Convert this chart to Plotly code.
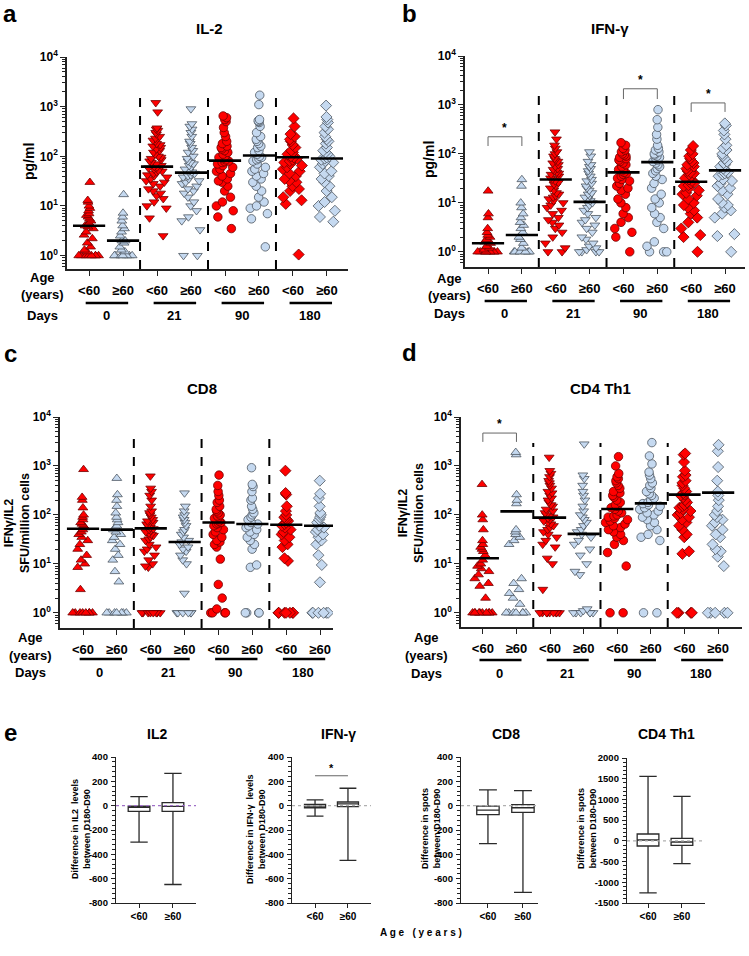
import math
import plotly.graph_objects as go

W, H = 749, 956
FONT = "Liberation Sans, Arial, sans-serif"

age_groups = ["<60", "≥60"] * 4
day_labels = ["0", "21", "90", "180"]
symbols = ["triangle-up", "triangle-up", "triangle-down", "triangle-down",
           "circle", "circle", "diamond", "diamond"]

# a: IL-2 pg/ml, groups = D0 <60, D0 >=60, D21 <60, D21 >=60, D90 ..., D180 ...
il2 = [
    [30, 13, 12, 10, 9, 8, 7, 6.5, 6, 5.5, 5, 4.5, 4.2, 4, 3.8, 3.5, 3, 2.6, 2.2, 1.8, 1.5, 1.3, 1.2, 1, 1, 1, 1, 1, 1, 1, 1],
    [17, 7.2, 6, 5, 4, 3.5, 3, 2.5, 2, 2, 1.8, 1.5, 1.3, 1.2, 1, 1, 1, 1, 1, 1, 1],
    [1200, 780, 370, 350, 330, 300, 280, 250, 230, 210, 200, 180, 170, 160, 150, 140, 130, 120, 110, 100, 95, 90, 85, 80,
     75, 70, 65, 62, 60, 58, 55, 52, 50, 48, 45, 42, 40, 38, 35, 32, 30, 28, 25, 22, 20, 18, 16, 14, 12, 10, 9, 5.7, 2.5],
    [900, 450, 400, 350, 300, 250, 200, 180, 150, 130, 120, 100, 90, 80, 75, 70, 65, 60, 55, 50, 48, 45, 42, 40, 38, 35,
     32, 30, 28, 25, 22, 20, 18, 15, 12, 10, 8, 6, 5, 3.3, 1, 1],
    [650, 600, 550, 500, 380, 300, 250, 200, 180, 160, 150, 140, 130, 120, 110, 100, 95, 90, 85, 80, 78, 75, 70, 65, 60,
     55, 50, 45, 40, 35, 32, 30, 25, 20, 15, 12, 10, 8, 6, 3.5],
    [1700, 1100, 550, 520, 500, 480, 400, 300, 250, 220, 200, 180, 160, 150, 130, 120, 110, 100, 95, 90, 85, 80, 70, 60,
     55, 50, 45, 40, 35, 30, 25, 20, 15, 12, 10, 9, 7, 5.5, 1.5],
    [580, 400, 280, 250, 220, 200, 170, 150, 130, 120, 110, 100, 95, 90, 85, 80, 75, 70, 65, 60, 55, 50, 45, 40, 35, 32,
     30, 25, 22, 20, 15, 13, 11, 1.05],
    [1050, 620, 550, 480, 400, 350, 300, 250, 220, 200, 180, 150, 130, 120, 110, 100, 95, 90, 85, 80, 75, 70, 60, 50, 45,
     40, 35, 30, 25, 20, 15, 12, 10, 8, 6, 4.8],
]
il2_med = [4.0, 2.0, 62, 47, 82, 104, 96, 90]

# b: IFN-gamma pg/ml
ifng = [
    [17.5, 6, 5, 3, 2.5, 2.2, 2, 1.8, 1.6, 1.5, 1.3, 1.2, 1.1, 1, 1, 1, 1, 1, 1, 1, 1, 1],
    [30, 22, 10, 8, 6, 5, 4, 3.5, 3, 2.5, 2, 1.8, 1.5, 1.2, 1, 1, 1, 1, 1, 1],
    [280, 200, 150, 130, 110, 100, 90, 80, 75, 70, 65, 60, 55, 50, 48, 45, 42, 40, 38, 35, 32, 30, 28, 26, 24, 22, 20, 18,
     16, 15, 14, 13, 12, 11, 10, 9, 8, 7, 6, 5, 4.5, 4, 3.5, 3, 2.5, 2, 1.5, 1.2, 1, 1],
    [110, 90, 70, 60, 55, 50, 45, 40, 35, 30, 28, 25, 22, 20, 18, 16, 15, 14, 13, 12, 11, 10, 9, 8, 7, 6, 5, 4.5, 4, 3.5,
     3, 2.5, 2, 1.8, 1.5, 1.3, 1.2, 1.1, 1, 1, 1, 1],
    [170, 150, 130, 120, 110, 100, 95, 90, 85, 80, 75, 70, 65, 60, 55, 50, 48, 45, 42, 40, 38, 35, 32, 30, 28, 25, 22, 20,
     18, 15, 12, 10, 8, 6, 5, 4, 3, 2.5, 2, 1],
    [800, 500, 350, 250, 200, 150, 130, 120, 110, 100, 95, 90, 85, 80, 75, 70, 65, 60, 55, 50, 45, 40, 35, 30, 25, 20, 15,
     12, 10, 8, 6, 5, 4, 3, 1.6, 1.3, 1, 1, 1],
    [145, 120, 100, 90, 80, 70, 65, 60, 55, 50, 45, 42, 40, 38, 35, 32, 30, 28, 26, 25, 23, 22, 20, 18, 16, 15, 14, 12, 10,
     9, 8, 7, 6, 5, 4, 3, 2.2, 2, 1],
    [420, 380, 300, 250, 200, 150, 130, 120, 100, 90, 80, 70, 65, 60, 55, 50, 45, 42, 40, 38, 35, 30, 28, 25, 22, 20, 18,
     15, 12, 10, 9, 8, 7, 6, 5, 2.3, 2.1, 1],
]
ifng_med = [1.5, 2.2, 30, 10.5, 42, 68, 27, 46]
ifng_sig = [(1, 2, 145, 224), (5, 6, 1320, 2140), (7, 8, 720, 1100)]

# c: CD8 IFNg/IL2 SFU/million cells
cd8 = [
    [850, 230, 200, 140, 100, 90, 80, 70, 65, 60, 55, 50, 45, 40, 35, 30, 25, 20, 15, 12, 10, 8.5, 3, 1, 1, 1, 1, 1, 1, 1, 1],
    [560, 260, 200, 150, 110, 90, 80, 70, 60, 55, 50, 45, 40, 35, 30, 25, 20, 15, 12, 7, 4.3, 1, 1, 1, 1, 1, 1, 1],
    [620, 350, 300, 250, 200, 150, 120, 110, 100, 90, 80, 75, 70, 65, 60, 55, 52, 50, 48, 45, 42, 40, 38, 35, 32, 30, 25,
     22, 20, 18, 15, 12, 10, 9, 8.5, 1, 1, 1, 1, 1, 1, 1, 1],
    [280, 150, 120, 100, 90, 80, 70, 60, 50, 45, 40, 35, 30, 28, 25, 22, 20, 18, 15, 12, 10, 2.5, 1, 1, 1, 1, 1, 1],
    [650, 400, 300, 250, 200, 180, 150, 130, 120, 110, 100, 95, 90, 85, 80, 75, 70, 68, 65, 60, 55, 50, 45, 40, 35, 30, 28,
     25, 22, 12.5, 3.8, 2, 1.2, 1, 1, 1, 1],
    [920, 420, 380, 300, 220, 200, 150, 130, 110, 100, 90, 80, 70, 65, 60, 55, 50, 45, 40, 35, 30, 25, 20, 9.5, 8.5, 1, 1, 1, 1],
    [800, 280, 260, 150, 120, 100, 90, 85, 80, 75, 70, 65, 60, 55, 50, 45, 40, 35, 30, 25, 22, 13, 11.5, 1, 1, 1, 1, 1, 1, 1],
    [500, 270, 220, 150, 110, 100, 90, 80, 70, 60, 55, 50, 45, 40, 35, 30, 25, 15, 9.5, 4.2, 1, 1, 1, 1, 1, 1],
]
cd8_med = [52, 50, 53, 28, 70, 65, 63, 60]

# d: CD4 Th1 IFNg/IL2 SFU/million cells
cd4 = [
    [420, 100, 80, 50, 30, 25, 22, 20, 18, 15, 12, 10, 9, 8, 7, 6, 5, 4, 3.5, 2, 1, 1, 1, 1, 1, 1, 1, 1, 1, 1],
    [1900, 1700, 260, 200, 170, 50, 45, 40, 35, 30, 25, 5, 4, 3, 2.5, 2, 1.5, 1, 1, 1, 1, 1, 1, 1],
    [1500, 800, 700, 600, 500, 450, 400, 350, 300, 280, 250, 220, 200, 180, 160, 150, 130, 120, 110, 100, 95, 90, 85, 80,
     75, 70, 65, 60, 55, 50, 45, 40, 35, 30, 25, 22, 13, 10, 3, 1, 1, 1, 1, 1, 1, 1, 1, 1],
    [2800, 650, 550, 400, 300, 250, 200, 150, 120, 100, 90, 80, 70, 60, 50, 45, 40, 35, 30, 25, 20, 15, 10, 7, 6, 1.2, 1.1,
     1, 1, 1, 1, 1, 1],
    [1550, 1000, 700, 600, 550, 500, 450, 400, 350, 300, 280, 250, 230, 200, 180, 160, 150, 140, 130, 120, 110, 100, 95, 90,
     85, 80, 75, 70, 65, 60, 55, 50, 45, 40, 35, 30, 25, 17, 9, 1, 1],
    [3000, 1600, 1100, 750, 650, 550, 450, 400, 350, 300, 270, 250, 220, 200, 180, 170, 160, 150, 140, 130, 120, 110, 100,
     90, 80, 70, 60, 50, 40, 35, 30, 1, 1],
    [1800, 1700, 1200, 800, 650, 600, 500, 450, 400, 350, 300, 280, 260, 250, 230, 200, 180, 160, 150, 140, 130, 120, 110,
     100, 90, 80, 70, 60, 50, 40, 35, 18, 16, 1, 1, 1, 1],
    [2700, 2000, 950, 500, 300, 250, 200, 150, 120, 100, 90, 80, 70, 60, 50, 40, 35, 25, 20, 18, 14, 9, 1, 1, 1, 1, 1],
]
cd4_med = [13, 118, 88, 41, 132, 172, 260, 285]
cd4_sig = [(1, 2, 3100, 4700)]

# e: D180 - D90 differences, box = min / q1 / median / q3 / max
box_titles = ["IL2", "IFN-γ", "CD8", "CD4 Th1"]
box_ytitles = ["Difference in IL2  levels<br>between D180-D90", "Difference in IFN-γ  levels<br>between D180-D90",
               "Difference in spots<br>between D180-D90", "Difference in spots<br>between D180-D90"]
box_min = [[-300, -648], [-86, -450], [-312, -712], [-1258, -550]]
box_q1 = [[-47, -47], [-17, -8], [-74, -55], [-124, -108]]
box_median = [[-14, -5], [-3, 14], [-36, -17], [21, -27]]
box_q3 = [[-3, 25], [11, 30], [-3, 8], [166, 61]]
box_max = [[74, 265], [47, 143], [130, 124], [1557, 1075]]
ifng_box_sig = 246

RED, RED_EDGE = "#ff0000", "#6e0000"
BLUE, BLUE_EDGE = "#c5d9f0", "#4d5560"
AX = "#222222"


def px(x):
    return x / W


def py(y):
    return 1 - y / H


def axname(letter, n):
    return letter if n == 1 else "%s%d" % (letter, n)


fig = go.Figure()
annotations = []
shapes = []


def note(text, x, y, size=12, angle=0, xref="paper", yref="paper", **kw):
    if xref == "paper":
        x = px(x)
    if yref == "paper":
        y = py(y)
    annotations.append(dict(text=text, x=x, y=y, xref=xref, yref=yref, showarrow=False, textangle=angle,
                            xanchor="center", yanchor="middle",
                            font=dict(family=FONT, size=size, color="black", weight="bold"), **kw))


scatter_panels = [
    dict(letter="a", title="IL-2", data=il2, med=il2_med, sig=[], ytitle="pg/ml",
         x0=67, x1=348, top=57, bot=269, xr=[0.35, 8.62], ylo=-0.27, dash_top=98,
         title_xy=(210, 28), letter_xy=(10, 14), ytitle_xy=(29, 162), age_x=42,
         rows=(277, 294, 303, 315)),
    dict(letter="b", title="IFN-γ", data=ifng, med=ifng_med, sig=ifng_sig, ytitle="pg/ml",
         x0=465, x1=745, top=56, bot=267, xr=[0.32, 8.59], ylo=-0.31, dash_top=94,
         title_xy=(610, 28), letter_xy=(409, 14), ytitle_xy=(429, 160), age_x=449,
         rows=(278, 295, 301, 313)),
    dict(letter="c", title="CD8", data=cd8, med=cd8_med, sig=[], ytitle="IFNγ/IL2<br>SFU/million cells",
         x0=60, x1=333, top=417, bot=628, xr=[0.32, 8.38], ylo=-0.31, dash_top=432,
         title_xy=(202, 388), letter_xy=(10, 353), ytitle_xy=(17, 523), age_x=30,
         rows=(637, 655, 659, 672)),
    dict(letter="d", title="CD4 Th1", data=cd4, med=cd4_med, sig=cd4_sig, ytitle="IFNγ/IL2<br>SFU/million cells",
         x0=461, x1=742, top=417, bot=627, xr=[0.35, 8.71], ylo=-0.29, dash_top=443,
         title_xy=(600, 388), letter_xy=(409, 352), ytitle_xy=(411, 513), age_x=427,
         rows=(637, 655, 660, 673)),
]

log_ticks = [1, 10, 100, 1000, 10000]
log_text = ["10<sup>%d</sup>" % i for i in range(5)]
log_minor = [k * 10 ** d for d in range(-1, 4) for k in range(2, 10) if k * 10 ** d >= 0.55]

layout = {}
for n, p in enumerate(scatter_panels, start=1):
    xa, ya = axname("x", n), axname("y", n)
    layout[axname("xaxis", n)] = dict(
        domain=[px(p["x0"]), px(p["x1"])], range=p["xr"], anchor=ya, showline=True, linecolor=AX, linewidth=1.6,
        tickvals=list(range(1, 9)), ticktext=age_groups, ticks="outside", ticklen=5, tickwidth=1.4, tickcolor=AX,
        tickfont=dict(family=FONT, size=13, color="black", weight="bold"), ticklabelstandoff=4,
        showgrid=False, zeroline=False, automargin=False)
    layout[axname("yaxis", n)] = dict(
        domain=[py(p["bot"]), py(p["top"])], type="log", range=[p["ylo"], 4], anchor=xa, showline=True,
        linecolor=AX, linewidth=1.6, tickvals=log_ticks, ticktext=log_text, ticks="outside", ticklen=5,
        tickwidth=1.4, tickcolor=AX, tickfont=dict(family=FONT, size=12, color="black", weight="bold"),
        minor=dict(tickvals=log_minor, ticks="outside", ticklen=3, tickwidth=1, tickcolor=AX, showgrid=False),
        showgrid=False, zeroline=False, automargin=False)

    for g, vals in enumerate(p["data"]):
        red = g % 2 == 0
        fig.add_trace(go.Box(
            x=[g + 1] * len(vals), y=vals, xaxis=xa, yaxis=ya, boxpoints="all", jitter=1, pointpos=0, width=0.72,
            fillcolor="rgba(0,0,0,0)", line=dict(width=0), showlegend=False, hoverinfo="y",
            marker=dict(symbol=symbols[g], size=8.5, color=RED if red else BLUE,
                        line=dict(width=0.8, color=RED_EDGE if red else BLUE_EDGE))))
    fig.add_trace(go.Scatter(
        x=list(range(1, 9)), y=p["med"], xaxis=xa, yaxis=ya, mode="markers", showlegend=False,
        marker=dict(symbol="line-ew", size=23, line=dict(width=2.6, color="black"))))

    for i, j, lo, hi in p["sig"]:
        fig.add_trace(go.Scatter(x=[i, i, j, j], y=[lo, hi, hi, lo], xaxis=xa, yaxis=ya, mode="lines",
                                 line=dict(color="#666666", width=1), showlegend=False, hoverinfo="skip"))
        note("*", (i + j) / 2, math.log10(hi), size=12, xref=xa, yref=ya, yshift=9)

    for k in (2.5, 4.5, 6.5):
        shapes.append(dict(type="line", xref=xa, yref=ya + " domain", x0=k, x1=k, y0=0,
                           y1=(p["bot"] - p["dash_top"]) / (p["bot"] - p["top"]),
                           line=dict(color="black", width=2, dash="dash")))

    age_y, years_y, bar_y, days_y = p["rows"]
    note("Age", p["age_x"], age_y, size=13)
    note("(years)", p["age_x"], years_y, size=13)
    note("Days", p["age_x"], days_y, size=13)
    for d, lab in enumerate(day_labels):
        c = 2 * d + 1.5
        shapes.append(dict(type="line", xref=xa, yref="paper", x0=c - 0.6, x1=c + 0.65, y0=py(bar_y), y1=py(bar_y),
                           line=dict(color="black", width=2.5)))
        note(lab, c, days_y, size=13, xref=xa)

    note(p["title"], *p["title_xy"], size=15)
    note(p["letter"], *p["letter_xy"], size=24)
    note(p["ytitle"], *p["ytitle_xy"], size=14 if n <= 2 else 12.5, angle=-90)

box_geo = [
    dict(x0=116, x1=196, xr=[-0.68, 1.68], yr=[-800, 400], dt=200, mdt=40, title_x=157, ytitle_x=81, zero="#a070c8"),
    dict(x0=292, x1=371, xr=[-0.7, 1.7], yr=[-800, 400], dt=200, mdt=40, title_x=338, ytitle_x=256, zero="#b0b0b0"),
    dict(x0=461, x1=538, xr=[-0.77, 1.43], yr=[-800, 400], dt=200, mdt=40, title_x=506, ytitle_x=431, zero="#b0b0b0"),
    dict(x0=627, x1=705, xr=[-0.62, 1.68], yr=[-1500, 2000], dt=500, mdt=100, title_x=666, ytitle_x=587, zero="#b0b0b0"),
]
for b, geo in enumerate(box_geo):
    n = 5 + b
    xa, ya = axname("x", n), axname("y", n)
    top, bot = 757, 903
    if b == 3:
        top = 758
    tv = list(range(geo["yr"][0], geo["yr"][1] + 1, geo["dt"]))
    layout[axname("xaxis", n)] = dict(
        domain=[px(geo["x0"]), px(geo["x1"])], range=geo["xr"], anchor=ya, showline=True, linecolor=AX,
        linewidth=1.3, tickvals=[0, 1], ticktext=["<60", "≥60"], ticks="outside", ticklen=4, tickwidth=1,
        tickcolor=AX, tickfont=dict(family=FONT, size=10, color="black", weight="bold"), showgrid=False,
        zeroline=False, automargin=False)
    layout[axname("yaxis", n)] = dict(
        domain=[py(bot), py(top)], range=geo["yr"], anchor=xa, showline=True, linecolor=AX, linewidth=1.3,
        tickvals=tv, ticktext=[str(v) for v in tv], ticks="outside", ticklen=4, tickwidth=1, tickcolor=AX,
        tickfont=dict(family=FONT, size=9.5, color="black", weight="bold"), ticklabelstandoff=1,
        minor=dict(dtick=geo["mdt"], ticks="outside", ticklen=2.5, tickwidth=1, tickcolor=AX, showgrid=False),
        showgrid=False, zeroline=False, automargin=False)
    shapes.append(dict(type="line", xref=xa + " domain", yref=ya, x0=0, x1=1, y0=0, y1=0,
                       line=dict(color=geo["zero"], width=1.3, dash="dot")))
    for g in range(2):
        fig.add_trace(go.Box(
            x=[g], q1=[box_q1[b][g]], median=[box_median[b][g]], q3=[box_q3[b][g]],
            lowerfence=[box_min[b][g]], upperfence=[box_max[b][g]], xaxis=xa, yaxis=ya, width=0.64,
            whiskerwidth=0.8, fillcolor="white", line=dict(color="#2a2a2a", width=1.3), showlegend=False))
    note(box_titles[b], geo["title_x"], 734, size=14)
    note(box_ytitles[b], geo["ytitle_x"], 829, size=9, angle=-90)

# significance bar in the IFN-g difference panel
fig.add_trace(go.Scatter(x=[0, 1], y=[ifng_box_sig, ifng_box_sig], xaxis="x6", yaxis="y6", mode="lines",
                         line=dict(color="#666666", width=1.2), showlegend=False, hoverinfo="skip"))
note("*", 0.5, ifng_box_sig, size=11, xref="x6", yref="y6", yshift=8)

note("e", 10, 732, size=24)
note("A g e   ( y e a r s )", 421, 932, size=10)

fig.update_layout(
    width=W, height=H, margin=dict(l=0, r=0, t=0, b=0, pad=0, autoexpand=False), paper_bgcolor="white",
    plot_bgcolor="white", showlegend=False, annotations=annotations, shapes=shapes,
    font=dict(family=FONT, color="black"), **layout)

fig.write_html("out.html", config={"displayModeBar": False},
               post_script="document.body.style.margin = '0px';")
